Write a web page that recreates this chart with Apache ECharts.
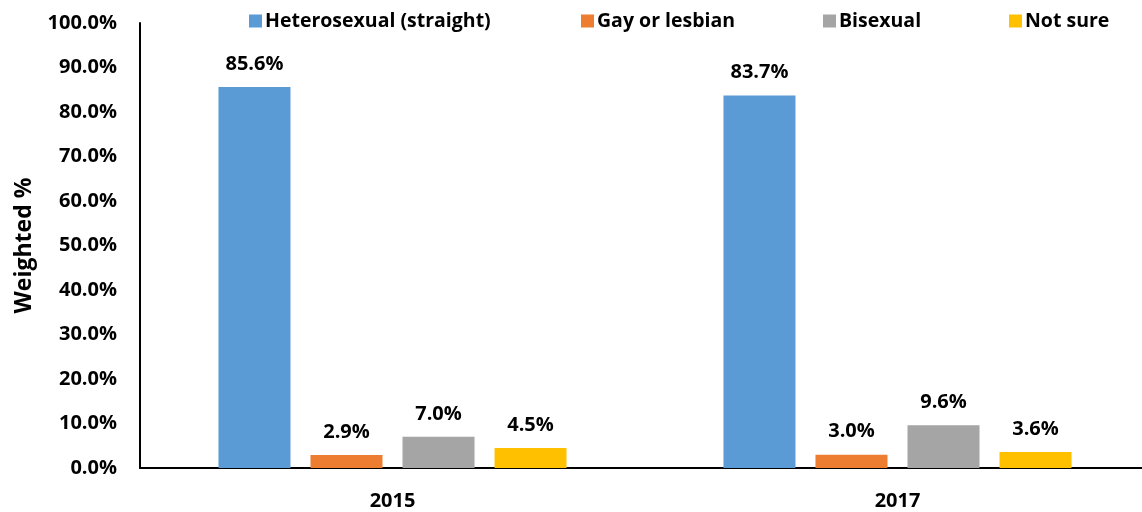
<!DOCTYPE html>
<html>
<head>
<meta charset="utf-8">
<script src="https://cdn.jsdelivr.net/npm/echarts@6/dist/echarts.min.js"></script>
<style>
  html, body { margin: 0; padding: 0; background: #fff; }
  #chart { width: 1142px; height: 512px; }
</style>
</head>
<body>
<div id="chart"></div>
<script>
// Survey years on the category axis
const years = ['2015', '2017'];

// Weighted percentage per orientation group, one value per year
const heterosexual = [85.6, 83.7];
const gayOrLesbian = [2.9, 3.0];
const bisexual = [7.0, 9.6];
const notSure = [4.5, 3.6];

const seriesNames = ['Heterosexual (straight)', 'Gay or lesbian', 'Bisexual', 'Not sure'];
const seriesValues = [heterosexual, gayOrLesbian, bisexual, notSure];
const seriesColors = ['#5B9BD5', '#ED7D31', '#A5A5A5', '#FFC000'];
const legendLeft = [244, 576, 818, 1004];

const FONT = 'Open Sans';
const chart = echarts.init(document.getElementById('chart'));

chart.setOption({
  animation: false,
  backgroundColor: '#fff',
  textStyle: { fontFamily: FONT },
  legend: seriesNames.map((name, i) => ({
    data: [name],
    left: legendLeft[i],
    top: 6,
    itemWidth: 13,
    itemHeight: 13,
    itemGap: 0,
    icon: 'rect',
    textStyle: { fontFamily: FONT, fontWeight: 'bold', fontSize: 19.5, color: '#000', padding: [0, 0, 0, -2] }
  })),
  // plot area runs slightly past the right edge of the canvas
  grid: { left: 140, width: 1010, top: 23, bottom: 44, outerBoundsMode: 'none' },
  xAxis: {
    type: 'category',
    data: years,
    axisLine: { lineStyle: { color: '#000', width: 2 } },
    axisTick: { show: false },
    axisLabel: { color: '#000', fontWeight: 'bold', fontSize: 20, margin: 23, fontFamily: FONT }
  },
  yAxis: {
    type: 'value',
    min: 0,
    max: 100,
    interval: 10,
    name: 'Weighted %',
    nameLocation: 'middle',
    nameGap: 104,
    nameTextStyle: { color: '#000', fontWeight: 'bold', fontSize: 23, fontFamily: FONT },
    axisLine: { show: true, lineStyle: { color: '#000', width: 2 } },
    axisTick: { show: false },
    splitLine: { show: false },
    axisLabel: {
      color: '#000', fontWeight: 'bold', fontSize: 20, margin: 23, fontFamily: FONT,
      formatter: v => v.toFixed(1) + '%'
    }
  },
  series: seriesNames.map((name, i) => ({
    name,
    type: 'bar',
    data: seriesValues[i],
    barWidth: 72,
    barGap: '27.8%',
    itemStyle: { color: seriesColors[i] },
    label: {
      show: true,
      position: 'top',
      distance: 13,
      color: '#000',
      fontWeight: 'bold',
      fontSize: 20,
      fontFamily: FONT,
      formatter: p => p.value.toFixed(1) + '%'
    }
  }))
});
</script>
</body>
</html>
